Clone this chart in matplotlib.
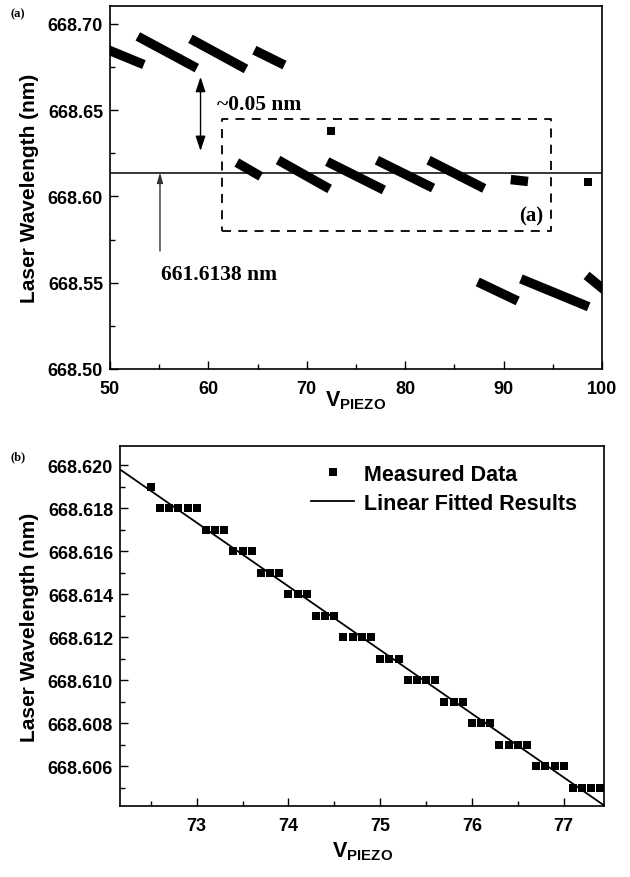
import numpy as np
import matplotlib
matplotlib.use("Agg")
import matplotlib.pyplot as plt
from matplotlib.ticker import MultipleLocator, FormatStrFormatter

plt.rcParams['font.family'] = ['Liberation Sans', 'DejaVu Sans']
plt.rcParams['font.weight'] = 'bold'
plt.rcParams['mathtext.fontset'] = 'custom'
plt.rcParams['mathtext.bf'] = 'Liberation Sans:bold'
plt.rcParams['mathtext.rm'] = 'Liberation Sans:bold'

# ---------------- Panel (a): mode-hop segments (start/end of each run) -------------
seg_v_start = [49.8, 53.25, 58.6, 65.1, 63.3, 67.5, 72.5, 77.55, 82.8, 91.2, 87.8, 92.2, 98.8]
seg_v_end = [53.0, 58.4, 63.4, 67.3, 64.9, 71.9, 77.4, 82.4, 87.6, 92.0, 91.0, 98.2, 100.3]
seg_wl_start = [668.6850, 668.6915, 668.6901, 668.6836, 668.6183, 668.6198, 668.6190,
                668.6198, 668.6198, 668.6095, 668.5493, 668.5512, 668.5525]
seg_wl_end = [668.6775, 668.6757, 668.6752, 668.6774, 668.6130, 668.6057, 668.6050,
              668.6061, 668.6059, 668.6090, 668.5406, 668.5371, 668.5455]
iso_v = [72.5, 98.6]
iso_wl = [668.6378, 668.6082]
ref_wl = 668.6138
box_v = [61.4, 94.8]
box_wl = [668.580, 668.645]

# ---------------- Panel (b): measured data -------------
meas_v = [72.5,
          72.6, 72.7, 72.8, 72.9, 73.0,
          73.1, 73.2, 73.3,
          73.4, 73.5, 73.6,
          73.7, 73.8, 73.9,
          74.0, 74.1, 74.2,
          74.3, 74.4, 74.5,
          74.6, 74.7, 74.8, 74.9,
          75.0, 75.1, 75.2,
          75.3, 75.4, 75.5, 75.6,
          75.7, 75.8, 75.9,
          76.0, 76.1, 76.2,
          76.3, 76.4, 76.5, 76.6,
          76.7, 76.8, 76.9, 77.0,
          77.1, 77.2, 77.3, 77.4]
meas_wl = [668.619,
           668.618, 668.618, 668.618, 668.618, 668.618,
           668.617, 668.617, 668.617,
           668.616, 668.616, 668.616,
           668.615, 668.615, 668.615,
           668.614, 668.614, 668.614,
           668.613, 668.613, 668.613,
           668.612, 668.612, 668.612, 668.612,
           668.611, 668.611, 668.611,
           668.610, 668.610, 668.610, 668.610,
           668.609, 668.609, 668.609,
           668.608, 668.608, 668.608,
           668.607, 668.607, 668.607, 668.607,
           668.606, 668.606, 668.606, 668.606,
           668.605, 668.605, 668.605, 668.605]

fig = plt.figure(figsize=(6.3, 8.78), dpi=100)
ax1 = fig.add_axes([0.1746, 0.5786, 0.7810, 0.4134])
ax2 = fig.add_axes([0.1905, 0.0809, 0.7683, 0.4100])

serif = ['Liberation Serif', 'DejaVu Serif']

# ---- Panel (a)
for vs, ve, ws, we in zip(seg_v_start, seg_v_end, seg_wl_start, seg_wl_end):
    ax1.plot([vs, ve], [ws, we], color='black', lw=6.8, solid_capstyle='projecting')
ax1.plot(iso_v, iso_wl, 's', color='black', ms=5.2, mew=0)
ax1.axhline(ref_wl, color='black', lw=1.1)
ax1.plot([box_v[0], box_v[1], box_v[1], box_v[0], box_v[0]],
         [box_wl[0], box_wl[0], box_wl[1], box_wl[1], box_wl[0]],
         color='black', lw=1.3, ls=(0, (5, 4)))
ax1.annotate('', xy=(59.2, 668.6693), xytext=(59.2, 668.6264),
             arrowprops=dict(arrowstyle='<|-|>,head_length=0.9,head_width=0.3',
                             color='black', lw=1.0, shrinkA=0, shrinkB=0))
ax1.annotate('', xy=(55.08, ref_wl), xytext=(55.08, 668.5684),
             arrowprops=dict(arrowstyle='-|>,head_length=0.6,head_width=0.18',
                             color='#333333', lw=1.0, shrinkA=0, shrinkB=0))
ax1.text(60.9, 668.6535, '~0.05 nm', family=serif, fontweight='bold', fontsize=15.5,
         ha='left', va='center')
ax1.text(61.1, 668.5550, '661.6138 nm', family=serif, fontweight='bold', fontsize=15.5,
         ha='center', va='center')
ax1.text(94.0, 668.5890, '(a)', family=serif, fontweight='bold', fontsize=15,
         ha='right', va='center')

ax1.set_xlim(50, 100)
ax1.set_ylim(668.50, 668.7104)
ax1.xaxis.set_major_locator(MultipleLocator(10))
ax1.xaxis.set_minor_locator(MultipleLocator(5))
ax1.yaxis.set_major_locator(MultipleLocator(0.05))
ax1.yaxis.set_minor_locator(MultipleLocator(0.025))
ax1.yaxis.set_major_formatter(FormatStrFormatter('%.2f'))
ax1.set_xlabel(r'$\mathbf{V_{PIEZO}}$', fontsize=15.5, labelpad=-6)
ax1.set_ylabel('Laser Wavelength (nm)', fontsize=15, fontweight='bold', labelpad=6)

# ---- Panel (b)
coef = np.polyfit(meas_v, meas_wl, 1)
xfit = np.array([72.0, 77.6])
ax2.plot(meas_v, meas_wl, 's', color='black', ms=5.4, mew=0, label='Measured Data', zorder=3)
ax2.plot(xfit, np.polyval(coef, xfit), color='black', lw=1.3, label='Linear Fitted Results')
ax2.set_xlim(72.164, 77.44)
ax2.set_ylim(668.60416, 668.6209)
ax2.xaxis.set_major_locator(MultipleLocator(1))
ax2.xaxis.set_minor_locator(MultipleLocator(0.5))
ax2.yaxis.set_major_locator(MultipleLocator(0.002))
ax2.yaxis.set_minor_locator(MultipleLocator(0.001))
ax2.yaxis.set_major_formatter(FormatStrFormatter('%.3f'))
ax2.set_xlabel(r'$\mathbf{V_{PIEZO}}$', fontsize=15.5, labelpad=4)
ax2.set_ylabel('Laser Wavelength (nm)', fontsize=15, fontweight='bold', labelpad=6)
ax2.legend(loc='upper left', bbox_to_anchor=(0.395, 0.95), frameon=False,
           handlelength=2.0, handletextpad=0.45, labelspacing=0.35, borderpad=0,
           borderaxespad=0, numpoints=1, prop={'weight': 'bold', 'size': 15.5})

for ax in (ax1, ax2):
    ax.tick_params(which='both', direction='in', top=False, right=False, labelsize=13)
    ax.tick_params(which='major', length=6, width=1.0)
    ax.tick_params(which='minor', length=3.5, width=1.0)
    ax.tick_params(axis='x', pad=8)
    ax.tick_params(axis='y', pad=5)
    for lab in ax.get_xticklabels() + ax.get_yticklabels():
        lab.set_fontweight('bold')
    for s in ax.spines.values():
        s.set_linewidth(1.2)

fig.text(0.016, 0.984, '(a)', family=serif, fontweight='bold', fontsize=9, ha='left', va='center')
fig.text(0.016, 0.479, '(b)', family=serif, fontweight='bold', fontsize=9, ha='left', va='center')

fig.savefig('out.png', dpi=100)
